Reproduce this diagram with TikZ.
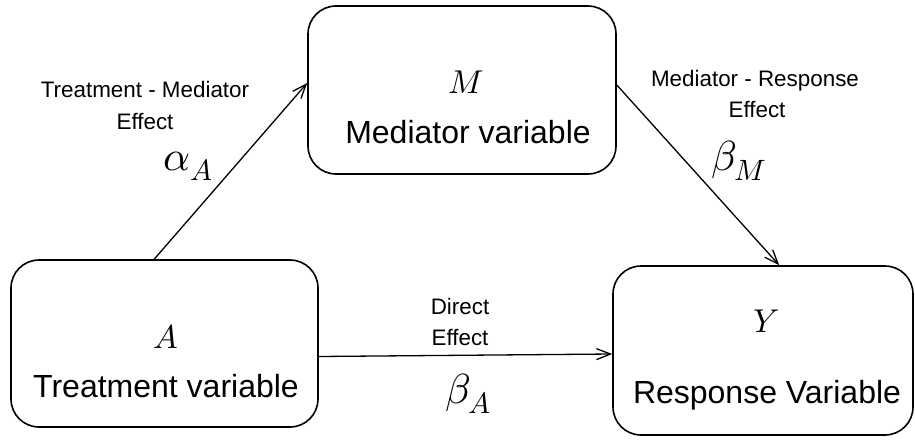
\documentclass[tikz,border=0pt]{standalone}
\usepackage{unicode-math}
\setmainfont{Liberation Sans}
\setmathfont{Latin Modern Math}
\usetikzlibrary{arrows.meta}
\tikzset{
  varbox/.style={draw, line width=1.6pt, rounded corners=28pt, minimum width=#1, inner sep=0pt},
  boxtext/.style={anchor=base, font=\fontsize{32}{36}\selectfont, inner sep=0pt},
  boxsym/.style={anchor=base, font=\fontsize{33}{36}\selectfont, inner sep=0pt},
  efflabel/.style={anchor=base, font=\fontsize{22.4}{26}\selectfont, inner sep=0pt},
  coef/.style={anchor=base west, font=\fontsize{42}{44}\selectfont, inner sep=0pt},
  effarrow/.style={line width=1.3pt, -{Straight Barb[length=14pt,width=11pt,line width=1.3pt]}}
}
\begin{document}
\begin{tikzpicture}[x=1pt,y=-1pt]
\useasboundingbox (0,0) rectangle (915,444);
% boxes
\node[varbox=307pt, minimum height=167pt] (A) at (164.5,343.5) {};
\node[varbox=308pt, minimum height=168pt] (M) at (462,90) {};
\node[varbox=300pt, minimum height=169pt] (Y) at (763,350.5) {};
% box texts
\node[boxsym] (Asym) at (166,348) {$A$};
\node[boxtext] (Atxt) at (166,397) {Treatment variable};
\node[boxsym] (Msym) at (466,93) {$M$};
\node[boxtext] (Mtxt) at (468,143) {Mediator variable};
\node[boxsym] (Ysym) at (767,332) {$Y$};
\node[boxtext] (Ytxt) at (767,403) {Response Variable};
% connectors
\draw[effarrow] ([xshift=144pt]A.north west) -- ([yshift=7pt]M.west);
\draw[effarrow] ([yshift=5pt]M.east) -- ([xshift=167pt]Y.north west);
\draw[effarrow] ([yshift=-13pt]A.east) -- ([yshift=-3.5pt]Y.west);
% labels
\node[efflabel] (l1a) at (145,97) {Treatment - Mediator};
\node[efflabel] (l1b) at (145,129) {Effect};
\node[coef] (alpha) at (163,170) {$\alpha_A$};
\node[efflabel] (l2a) at (755,86) {Mediator - Response};
\node[efflabel] (l2b) at (757,117) {Effect};
\node[coef] (betaM) at (711,170) {$\beta_M$};
\node[efflabel] (l3a) at (460,314) {Direct};
\node[efflabel] (l3b) at (460,345) {Effect};
\node[coef] (betaA) at (445,403) {$\beta_A$};
\end{tikzpicture}
\end{document}
